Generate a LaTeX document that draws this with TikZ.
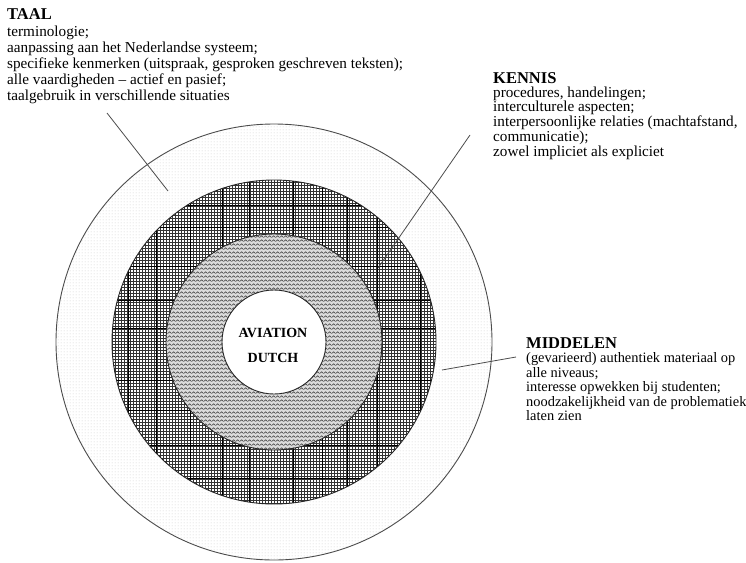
\documentclass[tikz,border=0pt]{standalone}
\usepackage{fontspec}
\setmainfont{Liberation Serif}
\usetikzlibrary{patterns}
\pgfdeclarepatternformonly{outerdots}{\pgfqpoint{0pt}{0pt}}{\pgfqpoint{3pt}{3pt}}{\pgfqpoint{3pt}{3pt}}{%
  \pgfpathrectangle{\pgfqpoint{1pt}{1pt}}{\pgfqpoint{0.9pt}{0.9pt}}\pgfusepath{fill}}
\pgfdeclarepatternformonly{ringgrid}{\pgfqpoint{-0.5pt}{-0.5pt}}{\pgfqpoint{3.5pt}{3.5pt}}{\pgfqpoint{3pt}{3pt}}{%
  \pgfsetlinewidth{0.75pt}%
  \pgfpathmoveto{\pgfqpoint{-0.5pt}{1.5pt}}\pgfpathlineto{\pgfqpoint{3.5pt}{1.5pt}}%
  \pgfpathmoveto{\pgfqpoint{1.5pt}{-0.5pt}}\pgfpathlineto{\pgfqpoint{1.5pt}{3.5pt}}%
  \pgfusepath{stroke}}
\pgfdeclarepatternformonly{wavylines}{\pgfqpoint{0pt}{0pt}}{\pgfqpoint{4pt}{3.5pt}}{\pgfqpoint{4pt}{3.5pt}}{%
  \pgfsetlinewidth{0.75pt}%
  \pgfpathmoveto{\pgfqpoint{-0.5pt}{0.5pt}}\pgfpathlineto{\pgfqpoint{2pt}{2.5pt}}\pgfpathlineto{\pgfqpoint{4.5pt}{0.5pt}}%
  \pgfusepath{stroke}}
\begin{document}
\begin{tikzpicture}[x=1pt,y=-1pt,
  body/.style={anchor=base west,inner sep=0pt,font=\fontsize{15.2}{16}\selectfont},
  smallbody/.style={anchor=base west,inner sep=0pt,font=\fontsize{14.4}{15}\selectfont},
  head/.style={anchor=base west,inner sep=0pt,font=\fontsize{16.5}{17}\selectfont\bfseries},
  ctr/.style={anchor=base,inner sep=0pt,font=\fontsize{14}{14}\selectfont\bfseries},
  ringline/.style={draw=black!85,line width=0.9pt},
  pointer/.style={draw=black!70,line width=0.8pt}]
\useasboundingbox (0,0) rectangle (746,562);
\coordinate (c) at (274,342);
% outer ring
\fill[white] (c) circle[radius=218pt];
\fill[pattern=outerdots,pattern color=black!45] (c) circle[radius=218pt];
\draw[ringline,draw=black!70] (c) circle[radius=218pt];
% cross-hatched ring
\fill[white] (c) circle[radius=162pt];
\fill[pattern=ringgrid,pattern color=black!80] (c) circle[radius=162pt];
\begin{scope}
  \clip (c) circle[radius=162pt];
  \foreach \xx in {128,156,190,222,249,293,322,347,377,420}
    \draw[black,line width=0.8pt] (\xx,170) -- (\xx,515);
  \foreach \yy in {205,227,266,300,328,380,410,445,478}
    \draw[black,line width=0.8pt] (105,\yy) -- (445,\yy);
\end{scope}
\draw[ringline] (c) circle[radius=162pt];
% wavy ring
\fill[gray!28] (c) circle[radius=108pt];
\fill[pattern=wavylines,pattern color=black!70] (c) circle[radius=108pt];
\draw[ringline] (c) circle[radius=108pt];
% centre
\fill[white] (c) circle[radius=52pt];
\draw[ringline] (c) circle[radius=52pt];
\node[ctr] (av1) at (273,337) {AVIATION};
\node[ctr] (av2) at (273,362) {DUTCH};
% TAAL
\node[head] (taal) at (7,19) {TAAL};
\foreach \t [count=\i from 0] in {terminologie;, aanpassing aan het Nederlandse systeem;,
  {specifieke kenmerken (uitspraak, gesproken geschreven teksten);},
  alle vaardigheden – actief en pasief;, taalgebruik in verschillende situaties}
  \node[body] (taal\i) at (7,36.5+16*\i) {\t};
% KENNIS
\node[head] (kennis) at (493,83) {KENNIS};
\foreach \t [count=\i from 0] in {{procedures, handelingen;}, interculturele aspecten;,
  {interpersoonlijke relaties (machtafstand,}, communicatie);, zowel impliciet als expliciet}
  \node[body] (kennis\i) at (493,97+14.8*\i) {\t};
% MIDDELEN
\node[head] (middelen) at (526,348) {MIDDELEN};
\foreach \t [count=\i from 0] in {(gevarieerd) authentiek materiaal op, alle niveaus;,
  interesse opwekken bij studenten;, noodzakelijkheid van de problematiek, laten zien}
  \node[smallbody] (middelen\i) at (526,362.5+14.6*\i) {\t};
% pointers
\coordinate (taalA) at (107,113);
\coordinate (taalB) at (168,191);
\coordinate (kenA) at (470,135);
\coordinate (kenB) at (378,268);
\coordinate (midA) at (442,370);
\coordinate (midB) at (516,357);
\draw[pointer] (taalA) -- (taalB);
\draw[pointer] (kenA) -- (kenB);
\draw[pointer] (midA) -- (midB);
\end{tikzpicture}
\end{document}
